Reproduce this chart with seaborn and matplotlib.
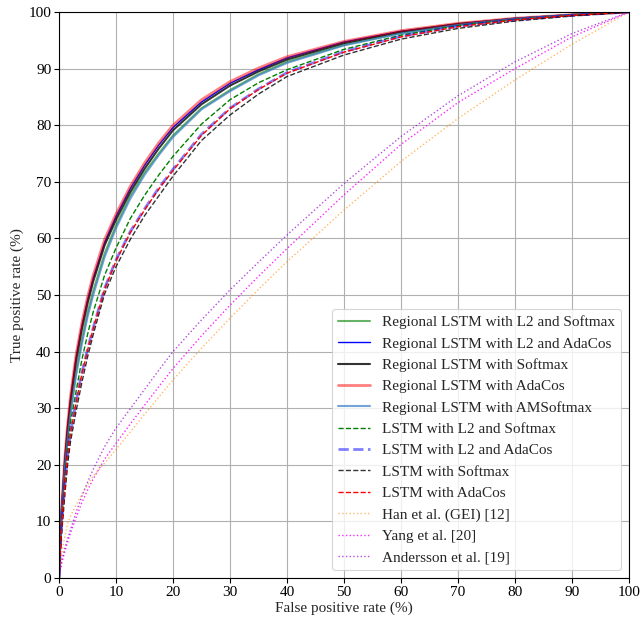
import numpy as np
import pandas as pd
import matplotlib
matplotlib.use("Agg")
import matplotlib.pyplot as plt
import seaborn as sns

# False positive rate grid (%) shared by every curve
fpr = [0, 0.25, 0.5, 1, 1.5, 2, 3, 4, 5, 6, 8, 10, 12.5, 15, 17.5, 20,
       25, 30, 35, 40, 50, 60, 70, 80, 90, 100]

# True positive rate (%) of each method at the grid above
tpr_reg_l2_softmax = [0, 7, 12, 19.5, 25, 29.5, 36.5, 42, 46.8, 50.7, 57.3, 62.3, 67.5, 71.6, 75, 78.2,
                      83, 86.2, 89, 91.2, 94.2, 96.3, 97.8, 98.8, 99.5, 100]
tpr_reg_l2_adacos = [0, 7.8, 12.7, 20.6, 26.6, 31.5, 39, 44.5, 49.1, 53, 59.3, 63.9, 68.8, 72.9, 76.5, 79.6,
                     84.1, 87.4, 89.8, 91.9, 94.7, 96.6, 97.9, 98.9, 99.5, 100]
tpr_reg_softmax = [0, 7.5, 12.4, 20.2, 26.2, 31, 38.4, 43.9, 48.5, 52.4, 58.8, 63.3, 68.2, 72.3, 75.9, 79.1,
                   83.7, 87.0, 89.5, 91.6, 94.5, 96.5, 97.9, 98.8, 99.5, 100]
tpr_reg_adacos = [0, 8, 13, 21, 27, 32, 39.5, 45, 49.6, 53.5, 59.8, 64.3, 69.2, 73.3, 76.9, 80.0,
                  84.5, 87.7, 90.1, 92.1, 94.8, 96.7, 98.0, 98.9, 99.5, 100]
tpr_reg_amsoftmax = [0, 7.2, 11.8, 19, 24.4, 28.8, 35.8, 41.3, 46.1, 50, 56.7, 61.8, 67, 71.2, 74.7, 77.9,
                     82.8, 86.0, 88.8, 91.0, 94.1, 96.2, 97.7, 98.8, 99.5, 100]
tpr_lstm_l2_softmax = [0, 6, 10.5, 17.5, 23, 27.5, 33, 38.5, 43, 47, 53.5, 58.3, 63.5, 67.6, 71.2, 74.5,
                       80.2, 84.5, 87.5, 89.8, 93.4, 95.9, 97.6, 98.7, 99.4, 100]
tpr_lstm_l2_adacos = [0, 5.6, 9.7, 16.2, 21.7, 25.7, 31.2, 36.2, 40.4, 44.2, 51.2, 56.2, 61.2, 65.2, 68.9, 72.2,
                      78.4, 83.0, 86.4, 89.3, 93.0, 95.7, 97.5, 98.6, 99.4, 100]
tpr_lstm_softmax = [0, 5, 8.5, 14.5, 20, 24, 29.5, 34.5, 39, 43, 50.2, 55, 59.8, 64, 67.5, 71,
                    77.3, 81.8, 85.5, 88.6, 92.4, 95.2, 97.1, 98.4, 99.3, 100]
tpr_lstm_adacos = [0, 5.5, 9.5, 16, 21.5, 25.5, 31, 36, 40.2, 44, 51, 56, 61, 65, 68.7, 72,
                   78.2, 82.9, 86.3, 89.2, 92.9, 95.6, 97.4, 98.6, 99.4, 100]
tpr_han_gei = [0, 2.6, 4.4, 7.2, 9.6, 10.9, 12.9, 14.8, 16.5, 18.0, 20.3, 22.7, 25.8, 28.9, 31.95, 35.0,
               40.6, 45.9, 51.0, 55.9, 65.0, 73.6, 81.2, 88.0, 94.3, 100]
tpr_yang = [0, 1.5, 2.7, 4.6, 6.3, 7.9, 10.7, 13.3, 15.5, 17.5, 21.0, 23.8, 27.2, 30.5, 33.8, 37.0,
            42.8, 48.2, 53.3, 58.2, 67.7, 76.6, 84.0, 90.0, 95.6, 100]
tpr_andersson = [0, 1.8, 3.2, 5.2, 6.9, 8.5, 11.6, 14.4, 16.9, 19.2, 23.2, 26.5, 29.9, 33.3, 36.7, 40.0,
                 45.6, 50.9, 55.8, 60.6, 69.7, 78.0, 85.2, 91.2, 96.2, 100]

labels = [
    "Regional LSTM with L2 and Softmax",
    "Regional LSTM with L2 and AdaCos",
    "Regional LSTM with Softmax",
    "Regional LSTM with AdaCos",
    "Regional LSTM with AMSoftmax",
    "LSTM with L2 and Softmax",
    "LSTM with L2 and AdaCos",
    "LSTM with Softmax",
    "LSTM with AdaCos",
    "Han et al. (GEI) [12]",
    "Yang et al. [20]",
    "Andersson et al. [19]",
]
series = [tpr_reg_l2_softmax, tpr_reg_l2_adacos, tpr_reg_softmax, tpr_reg_adacos,
          tpr_reg_amsoftmax, tpr_lstm_l2_softmax, tpr_lstm_l2_adacos, tpr_lstm_softmax,
          tpr_lstm_adacos, tpr_han_gei, tpr_yang, tpr_andersson]

# line appearance per curve: colour, alpha, width, dash style
styles = [
    dict(color="green", alpha=0.6, linewidth=1.5, linestyle="-"),
    dict(color="blue", alpha=1.0, linewidth=1.0, linestyle="-"),
    dict(color="black", alpha=0.8, linewidth=1.5, linestyle="-"),
    dict(color="red", alpha=0.5, linewidth=2.0, linestyle="-"),
    dict(color="#3a7fc8", alpha=0.7, linewidth=1.5, linestyle="-"),
    dict(color="green", alpha=1.0, linewidth=1.0, linestyle="--"),
    dict(color="blue", alpha=0.5, linewidth=2.0, linestyle="--"),
    dict(color="black", alpha=0.8, linewidth=1.0, linestyle="--"),
    dict(color="red", alpha=1.0, linewidth=1.0, linestyle="--"),
    dict(color="darkorange", alpha=0.6, linewidth=1.0, linestyle=":"),
    dict(color="magenta", alpha=0.85, linewidth=1.0, linestyle=":"),
    dict(color="darkviolet", alpha=0.7, linewidth=1.0, linestyle=":"),
]

sns.set_theme(style="whitegrid")
plt.rcParams["font.family"] = ["Liberation Serif", "DejaVu Serif"]
plt.rcParams["font.size"] = 11

fig = plt.figure(figsize=(6.41, 6.2), dpi=100)
ax = fig.add_axes([59 / 641, 42 / 620, 570 / 641, 566 / 620])

for lab, tpr, st in zip(labels, series, styles):
    df = pd.DataFrame({"fpr": fpr, "tpr": tpr})
    sns.lineplot(data=df, x="fpr", y="tpr", ax=ax, label=lab, **st)

ax.set_xlim(0, 100)
ax.set_ylim(0, 100)
ax.set_xticks(np.arange(0, 101, 10))
ax.set_yticks(np.arange(0, 101, 10))
ax.set_xlabel("False positive rate (%)", fontsize=11, labelpad=2)
ax.set_ylabel("True positive rate (%)", fontsize=11, labelpad=3)
ax.tick_params(axis="both", labelsize=11, colors="black", length=3.5, width=0.8,
               direction="out", bottom=True, left=True, pad=2)
ax.grid(True, color="#b0b0b0", linewidth=0.8)
for sp in ax.spines.values():
    sp.set_color("black")
    sp.set_linewidth(0.8)

leg = ax.legend(loc="lower right", fontsize=11, frameon=True, framealpha=0.8,
                edgecolor="#cccccc", fancybox=True, handlelength=2.1,
                labelspacing=0.5)
leg.get_frame().set_linewidth(0.8)

fig.savefig("out.png", dpi=100)
